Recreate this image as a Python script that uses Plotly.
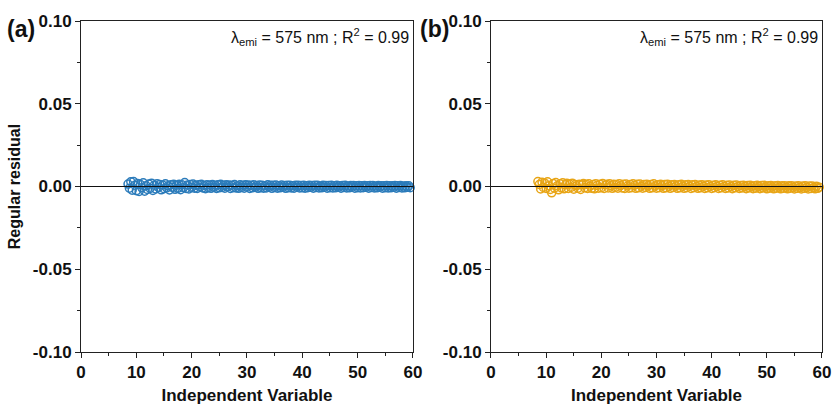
import plotly.graph_objects as go

# Independent variable (shared sampling of both panels)
x_vals = [8.5, 8.75, 9.0, 9.25, 9.5, 9.75, 10.0, 10.25, 10.5, 10.75,
          11.0, 11.25, 11.5, 11.75, 12.0, 12.25, 12.5, 12.75, 13.0, 13.25,
          13.5, 13.75, 14.0, 14.25, 14.5, 14.75, 15.0, 15.25, 15.5, 15.75,
          16.0, 16.25, 16.5, 16.75, 17.0, 17.25, 17.5, 17.75, 18.0, 18.25,
          18.5, 18.75, 19.0, 19.25, 19.5, 19.75, 20.0, 20.25, 20.5, 20.75,
          21.0, 21.25, 21.5, 21.75, 22.0, 22.25, 22.5, 22.75, 23.0, 23.25,
          23.5, 23.75, 24.0, 24.25, 24.5, 24.75, 25.0, 25.25, 25.5, 25.75,
          26.0, 26.25, 26.5, 26.75, 27.0, 27.25, 27.5, 27.75, 28.0, 28.25,
          28.5, 28.75, 29.0, 29.25, 29.5, 29.75, 30.0, 30.25, 30.5, 30.75,
          31.0, 31.25, 31.5, 31.75, 32.0, 32.25, 32.5, 32.75, 33.0, 33.25,
          33.5, 33.75, 34.0, 34.25, 34.5, 34.75, 35.0, 35.25, 35.5, 35.75,
          36.0, 36.25, 36.5, 36.75, 37.0, 37.25, 37.5, 37.75, 38.0, 38.25,
          38.5, 38.75, 39.0, 39.25, 39.5, 39.75, 40.0, 40.25, 40.5, 40.75,
          41.0, 41.25, 41.5, 41.75, 42.0, 42.25, 42.5, 42.75, 43.0, 43.25,
          43.5, 43.75, 44.0, 44.25, 44.5, 44.75, 45.0, 45.25, 45.5, 45.75,
          46.0, 46.25, 46.5, 46.75, 47.0, 47.25, 47.5, 47.75, 48.0, 48.25,
          48.5, 48.75, 49.0, 49.25, 49.5, 49.75, 50.0, 50.25, 50.5, 50.75,
          51.0, 51.25, 51.5, 51.75, 52.0, 52.25, 52.5, 52.75, 53.0, 53.25,
          53.5, 53.75, 54.0, 54.25, 54.5, 54.75, 55.0, 55.25, 55.5, 55.75,
          56.0, 56.25, 56.5, 56.75, 57.0, 57.25, 57.5, 57.75, 58.0, 58.25,
          58.5, 58.75, 59.0, 59.25, 59.5]

# Residuals, panel (a)
res_a = [0.0015, -0.0010, 0.0028, -0.0022, 0.0030, 0.0008, -0.0025, 0.0018, -0.0030, 0.0012,
         -0.0008, 0.0022, -0.0028, 0.0005, -0.0018, 0.0015, -0.0012, 0.0020, -0.0024, 0.0008,
         -0.0015, 0.0017, -0.0006, 0.0012, -0.0020, 0.0009, -0.0013, 0.0016, -0.0009, 0.0004,
         -0.0021, 0.0011, -0.0005, 0.0014, -0.0017, 0.0008, -0.0011, 0.0013, -0.0019, 0.0010,
         -0.0007, 0.0024, -0.0012, 0.0009, -0.0015, 0.0012, -0.0006, 0.0015, -0.0010, 0.0007,
         -0.0012, 0.0010, -0.0004, 0.0013, -0.0009, 0.0006, -0.0013, 0.0011, -0.0007, 0.0009,
         -0.0011, 0.0012, -0.0005, 0.0008, -0.0012, 0.0010, -0.0008, 0.0013, -0.0006, 0.0007,
         -0.0010, 0.0011, -0.0003, 0.0009, -0.0012, 0.0008, -0.0007, 0.0012, -0.0009, 0.0005,
         -0.0011, 0.0010, -0.0006, 0.0008, -0.0010, 0.0011, -0.0004, 0.0009, -0.0012, 0.0007,
         -0.0008, 0.0010, -0.0005, 0.0006, -0.0011, 0.0009, -0.0007, 0.0008, -0.0010, 0.0005,
         -0.0009, 0.0010, -0.0004, 0.0007, -0.0011, 0.0008, -0.0006, 0.0009, -0.0010, 0.0004,
         -0.0008, 0.0009, -0.0005, 0.0006, -0.0011, 0.0008, -0.0007, 0.0007, -0.0009, 0.0005,
         -0.0010, 0.0008, -0.0004, 0.0007, -0.0009, 0.0006, -0.0008, 0.0008, -0.0010, 0.0004,
         -0.0007, 0.0008, -0.0005, 0.0006, -0.0010, 0.0007, -0.0006, 0.0007, -0.0009, 0.0003,
         -0.0008, 0.0007, -0.0004, 0.0006, -0.0010, 0.0006, -0.0007, 0.0007, -0.0009, 0.0004,
         -0.0008, 0.0007, -0.0005, 0.0005, -0.0010, 0.0006, -0.0006, 0.0007, -0.0009, 0.0003,
         -0.0008, 0.0006, -0.0004, 0.0006, -0.0010, 0.0005, -0.0007, 0.0006, -0.0009, 0.0004,
         -0.0007, 0.0006, -0.0005, 0.0005, -0.0010, 0.0006, -0.0006, 0.0006, -0.0009, 0.0003,
         -0.0008, 0.0006, -0.0004, 0.0005, -0.0010, 0.0005, -0.0007, 0.0006, -0.0009, 0.0004,
         -0.0008, 0.0005, -0.0005, 0.0006, -0.0010, 0.0005, -0.0006, 0.0006, -0.0009, 0.0003,
         -0.0008, 0.0005, -0.0005, 0.0004, -0.0007]

# Residuals, panel (b)
res_b = [0.0030, 0.0012, -0.0015, 0.0026, -0.0006, 0.0020, -0.0012, 0.0028, 0.0005, -0.0018,
         -0.0038, 0.0018, -0.0010, 0.0024, 0.0004, -0.0020, 0.0016, -0.0008, 0.0022, -0.0014,
         0.0010, 0.0019, -0.0012, 0.0015, -0.0006, 0.0020, -0.0016, 0.0012, 0.0004, -0.0010,
         0.0014, -0.0018, 0.0010, 0.0018, -0.0008, 0.0013, -0.0012, 0.0016, 0.0002, -0.0011,
         0.0012, -0.0014, 0.0017, 0.0006, -0.0010, 0.0014, -0.0007, 0.0018, -0.0012, 0.0009,
         0.0013, -0.0009, 0.0016, 0.0004, -0.0011, 0.0014, -0.0006, 0.0012, -0.0010, 0.0017,
         0.0005, -0.0009, 0.0013, -0.0012, 0.0015, 0.0003, -0.0010, 0.0012, -0.0007, 0.0016,
         0.0006, -0.0011, 0.0013, -0.0008, 0.0015, 0.0002, -0.0010, 0.0012, -0.0006, 0.0014,
         0.0004, -0.0011, 0.0012, -0.0008, 0.0016, 0.0003, -0.0010, 0.0011, -0.0007, 0.0013,
         0.0004, -0.0011, 0.0012, -0.0008, 0.0014, 0.0002, -0.0011, 0.0010, -0.0006, 0.0012,
         0.0003, -0.0011, 0.0011, -0.0008, 0.0013, 0.0002, -0.0011, 0.0010, -0.0007, 0.0012,
         0.0002, -0.0012, 0.0010, -0.0007, 0.0012, 0.0001, -0.0011, 0.0009, -0.0008, 0.0011,
         0.0002, -0.0012, 0.0009, -0.0008, 0.0011, 0.0000, -0.0012, 0.0008, -0.0007, 0.0010,
         0.0001, -0.0012, 0.0008, -0.0008, 0.0010, 0.0000, -0.0012, 0.0007, -0.0009, 0.0009,
         -0.0001, -0.0013, 0.0007, -0.0008, 0.0009, -0.0001, -0.0012, 0.0006, -0.0009, 0.0008,
         -0.0002, -0.0013, 0.0006, -0.0009, 0.0008, -0.0002, -0.0013, 0.0005, -0.0010, 0.0007,
         -0.0002, -0.0013, 0.0006, -0.0009, 0.0007, -0.0003, -0.0014, 0.0005, -0.0010, 0.0006,
         -0.0003, -0.0014, 0.0005, -0.0010, 0.0006, -0.0003, -0.0014, 0.0004, -0.0011, 0.0005,
         -0.0004, -0.0014, 0.0004, -0.0010, 0.0005, -0.0004, -0.0015, 0.0003, -0.0011, 0.0004,
         -0.0005, -0.0015, 0.0003, -0.0011, 0.0004, -0.0005, -0.0015, 0.0003, -0.0012, 0.0003,
         -0.0006, -0.0014, 0.0002, -0.0011, -0.0004]

panel_labels = ["(a)", "(b)"]
annot_text = "λ<sub>emi</sub> = 575 nm ; R<sup>2</sup> = 0.99"
x_title = "Independent Variable"
y_title = "Regular residual"
y_tickvals = [-0.10, -0.05, 0.00, 0.05, 0.10]
y_ticktext = ["-0.10", "-0.05", "0.00", "0.05", "0.10"]
x_ticks = [0, 10, 20, 30, 40, 50, 60]

colors = ["#2b7bba", "#e8a516"]

fig = go.Figure()
for i, (res, col) in enumerate(zip([res_a, res_b], colors)):
    xa = "x" if i == 0 else "x2"
    ya = "y" if i == 0 else "y2"
    fig.add_trace(go.Scatter(
        x=x_vals, y=res, mode="markers", xaxis=xa, yaxis=ya,
        marker=dict(symbol="circle-open", size=8, color=col, line=dict(width=1.5, color=col)),
        showlegend=False, hoverinfo="skip", cliponaxis=False))

BOLD = "Liberation Sans"
axis_common = dict(
    showline=True, linecolor="#222", linewidth=1, mirror=True,
    ticks="outside", ticklen=5, tickwidth=1, tickcolor="#222",
    showgrid=False, zeroline=False, automargin=False,
    tickfont=dict(family=BOLD, size=17, color="#111", weight="bold"),
)

x_dom = [[0, 0.448], [0.5533, 1.0]]
for i in range(2):
    sfx = "" if i == 0 else "2"
    fig.update_layout(**{
        "xaxis" + sfx: dict(
            axis_common, domain=x_dom[i], range=[0, 60], tickvals=x_ticks,
            anchor="y" + sfx,
            minor=dict(ticks="outside", ticklen=3, dtick=5, tick0=0, tickcolor="#222"),
            title=dict(text=x_title, standoff=8,
                       font=dict(family=BOLD, size=17, color="#111", weight="bold")),
        ),
        "yaxis" + sfx: dict(
            axis_common, range=[-0.1, 0.1], tickvals=y_tickvals, ticktext=y_ticktext,
            anchor="x" + sfx,
            minor=dict(ticks="outside", ticklen=3, dtick=0.025, tick0=0, tickcolor="#222"),
            title=dict(text=y_title if i == 0 else "", standoff=8,
                       font=dict(family=BOLD, size=16, color="#111", weight="bold")),
        ),
    })
    # zero line
    fig.add_shape(type="line", xref="x" + sfx, yref="y" + sfx, x0=0, x1=60, y0=0, y1=0,
                  line=dict(color="#111", width=1.2), layer="above")
    # annotation
    fig.add_annotation(text=annot_text, xref="x" + sfx + " domain", yref="y" + sfx + " domain",
                       x=0.995, y=0.99, xanchor="right", yanchor="top", showarrow=False,
                       font=dict(family="Liberation Sans", size=16, color="#111"))
    # panel label
    fig.add_annotation(text=panel_labels[i], xref="x" + sfx + " domain", yref="paper",
                       x=-0.229 if i == 0 else -0.222, y=0.975, xanchor="left", yanchor="middle",
                       showarrow=False,
                       font=dict(family=BOLD, size=23, color="#111", weight="bold"))

fig.update_layout(
    width=834, height=405,
    margin=dict(l=81, r=12, t=21, b=53),
    paper_bgcolor="white", plot_bgcolor="white",
)

fig.write_html("out.html")
